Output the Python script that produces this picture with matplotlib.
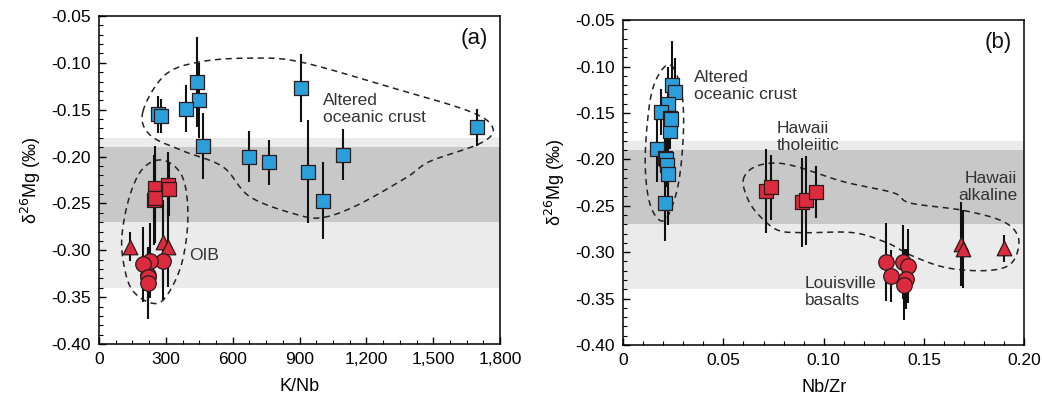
import numpy as np
import matplotlib
matplotlib.use("Agg")
import matplotlib.pyplot as plt
from matplotlib.ticker import MultipleLocator, FuncFormatter

plt.rcParams['font.family'] = ['Liberation Sans', 'DejaVu Sans']

# altered oceanic crust (blue squares)
aoc_mg = [-0.120, -0.127, -0.140, -0.149, -0.155, -0.169, -0.189, -0.198, -0.200, -0.206, -0.216, -0.247, -0.157]
aoc_err = [0.048, 0.036, 0.040, 0.025, 0.020, 0.020, 0.035, 0.027, 0.027, 0.024, 0.055, 0.041, 0.018]
aoc_knb = [440, 906, 448, 390, 266, 1697, 467, 1095, 673, 763, 938, 1005, 280]
aoc_nbzr = [0.0246, 0.0259, 0.0223, 0.0190, 0.0233, 0.0236, 0.0168, 0.0209, 0.0212, 0.0218, 0.0226, 0.0209, 0.0240]

# Hawaii tholeiitic (red squares)
tho_mg = [-0.234, -0.230, -0.246, -0.244, -0.235]
tho_err = [0.045, 0.035, 0.048, 0.048, 0.028]
tho_knb = [251, 311, 248, 253, 314]
tho_nbzr = [0.0712, 0.0735, 0.0894, 0.0910, 0.0964]

# Louisville basalts (red circles)
lou_mg = [-0.311, -0.326, -0.311, -0.315, -0.329, -0.335]
lou_err = [0.042, 0.028, 0.040, 0.040, 0.032, 0.038]
lou_knb = [289, 221, 229, 199, 221, 222]
lou_nbzr = [0.1312, 0.1335, 0.1395, 0.1420, 0.1411, 0.1401]

# Hawaii alkaline (red triangles)
alk_mg = [-0.291, -0.297, -0.296]
alk_err = [0.045, 0.042, 0.015]
alk_knb = [289, 311, 139]
alk_nbzr = [0.1684, 0.1694, 0.1900]

# reference bands
band_light = (-0.34, -0.18)
band_dark = (-0.27, -0.19)

# dashed field outlines (x, y) in data units
field_aoc_a = [(197, -0.152), (296, -0.113), (453, -0.099), (678, -0.095), (902, -0.099),
               (1306, -0.126), (1665, -0.152), (1768, -0.170), (1710, -0.186), (1486, -0.205),
               (1382, -0.222), (1158, -0.252), (1005, -0.265), (889, -0.262), (678, -0.243),
               (556, -0.211), (377, -0.194), (229, -0.177)]
field_oib_a = [(103, -0.284), (139, -0.241), (200, -0.212), (290, -0.204), (375, -0.222),
               (399, -0.265), (370, -0.315), (296, -0.351), (229, -0.356), (148, -0.342),
               (112, -0.316)]
field_aoc_b = [(0.0244, -0.0995), (0.0294, -0.1307), (0.0299, -0.179), (0.0269, -0.233),
               (0.0204, -0.266), (0.0135, -0.249), (0.011, -0.201), (0.0135, -0.136),
               (0.0185, -0.106)]
field_haw_b = [(0.0599, -0.222), (0.0648, -0.209), (0.0748, -0.204), (0.0868, -0.208),
               (0.1097, -0.224), (0.1347, -0.236), (0.1431, -0.247), (0.1696, -0.255),
               (0.1895, -0.267), (0.197, -0.284), (0.1955, -0.306), (0.1895, -0.317),
               (0.1766, -0.320), (0.1596, -0.316), (0.1431, -0.303), (0.1317, -0.290),
               (0.1147, -0.279), (0.0898, -0.279), (0.0768, -0.276), (0.0668, -0.258),
               (0.0618, -0.241)]

BLUE = '#2a9fdc'
RED = '#dc2a3e'
EDGE = '#2b1a1a'
TXT = '#333333'


def closed_curve(pts, n=20):
    # closed Catmull-Rom through the outline points
    p = np.array(pts, dtype=float)
    k = len(p)
    out = []
    t = np.linspace(0, 1, n, endpoint=False)[:, None]
    for i in range(k):
        p0, p1, p2, p3 = p[i - 1], p[i], p[(i + 1) % k], p[(i + 2) % k]
        seg = 0.5 * ((2 * p1) + (-p0 + p2) * t + (2 * p0 - 5 * p1 + 4 * p2 - p3) * t ** 2
                     + (-p0 + 3 * p1 - 3 * p2 + p3) * t ** 3)
        out.append(seg)
    out = np.vstack(out)
    return np.vstack([out, out[:1]])


def draw_points(ax, x, y, err, marker, color, size):
    ax.errorbar(x, y, yerr=err, fmt='none', ecolor='#111111', elinewidth=1.5, capsize=0, zorder=3)
    ax.scatter(x, y, marker=marker, s=size, facecolor=color, edgecolor=EDGE, linewidth=0.9, zorder=4)


def style_axes(ax, xmax, xmajor, xminor, xfmt, xlabel):
    ax.set_ylim(-0.40, -0.05)
    ax.set_xlim(0, xmax)
    ax.axhspan(*band_light, color='#ebebeb', lw=0, zorder=0)
    ax.axhspan(*band_dark, color='#c8c8c9', lw=0, zorder=0.5)
    ax.xaxis.set_major_locator(MultipleLocator(xmajor))
    ax.xaxis.set_minor_locator(MultipleLocator(xminor))
    ax.yaxis.set_major_locator(MultipleLocator(0.05))
    ax.yaxis.set_minor_locator(MultipleLocator(0.01))
    ax.xaxis.set_major_formatter(FuncFormatter(xfmt))
    ax.yaxis.set_major_formatter(FuncFormatter(lambda v, p: f'{v:.2f}'))
    ax.tick_params(which='both', direction='in', top=False, right=False, labelsize=12.5, colors='black')
    ax.tick_params(which='major', length=5, width=1, pad=6)
    ax.tick_params(which='minor', length=3, width=0.8)
    ax.set_xlabel(xlabel, fontsize=13, labelpad=8)
    ax.set_ylabel('\u03b4$^{26}$Mg (\u2030)', fontsize=13, labelpad=6)
    for s in ax.spines.values():
        s.set_linewidth(1.1)


fig = plt.figure(figsize=(10.42, 4.03), dpi=100)
ax1 = fig.add_axes([0.095, 0.1464, 0.385, 0.814])
ax2 = fig.add_axes([0.598, 0.144, 0.385, 0.806])

# panel (a): K/Nb
style_axes(ax1, 1800, 300, 75, lambda v, p: '0' if v == 0 else f'{v:,.0f}', 'K/Nb')
for f in (field_aoc_a, field_oib_a):
    c = closed_curve(f)
    ax1.plot(c[:, 0], c[:, 1], ls=(0, (4, 3)), color='#222222', lw=1.1, zorder=2)
draw_points(ax1, aoc_knb, aoc_mg, aoc_err, 's', BLUE, 105)
draw_points(ax1, alk_knb, alk_mg, alk_err, '^', RED, 110)
draw_points(ax1, lou_knb, lou_mg, lou_err, 'o', RED, 125)
draw_points(ax1, tho_knb, tho_mg, tho_err, 's', RED, 105)
ax1.text(0.97, 0.93, '(a)', transform=ax1.transAxes, ha='right', va='center', fontsize=16, color='#111111')
ax1.text(1005, -0.149, 'Altered\noceanic crust', ha='left', va='center', fontsize=12.5,
         color=TXT, linespacing=1.15)
ax1.text(405, -0.306, 'OIB', ha='left', va='center', fontsize=12.5, color=TXT)

# panel (b): Nb/Zr
style_axes(ax2, 0.20, 0.05, 0.01, lambda v, p: '0' if abs(v) < 1e-9 else f'{v:.2f}', 'Nb/Zr')
for f in (field_aoc_b, field_haw_b):
    c = closed_curve(f)
    ax2.plot(c[:, 0], c[:, 1], ls=(0, (4, 3)), color='#222222', lw=1.1, zorder=2)
draw_points(ax2, aoc_nbzr, aoc_mg, aoc_err, 's', BLUE, 105)
draw_points(ax2, alk_nbzr, alk_mg, alk_err, '^', RED, 110)
draw_points(ax2, lou_nbzr, lou_mg, lou_err, 'o', RED, 125)
draw_points(ax2, tho_nbzr, tho_mg, tho_err, 's', RED, 105)
ax2.text(0.97, 0.93, '(b)', transform=ax2.transAxes, ha='right', va='center', fontsize=16, color='#111111')
ax2.text(0.0355, -0.121, 'Altered\noceanic crust', ha='left', va='center', fontsize=12.5,
         color=TXT, linespacing=1.15)
ax2.text(0.0765, -0.176, 'Hawaii\ntholeiitic', ha='left', va='center', fontsize=12.5,
         color=TXT, linespacing=1.15)
ax2.text(0.1965, -0.230, 'Hawaii\nalkaline', ha='right', va='center', fontsize=12.5,
         color=TXT, linespacing=1.15)
ax2.text(0.0905, -0.343, 'Louisville\nbasalts', ha='left', va='center', fontsize=12.5,
         color=TXT, linespacing=1.15)

fig.savefig('out.png', dpi=100)
